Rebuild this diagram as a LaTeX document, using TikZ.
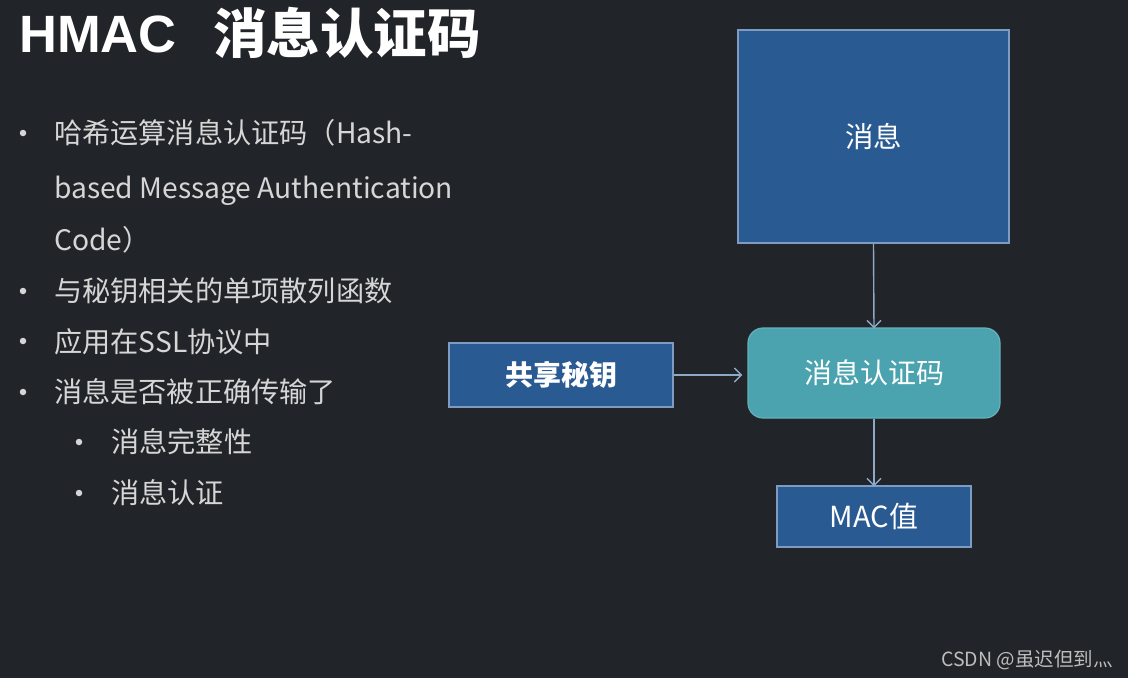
\documentclass[tikz,border=0pt]{standalone}
\usepackage{fontspec}
\setmainfont{Noto Sans CJK SC}
\newfontfamily\arialf{Liberation Sans}
\usetikzlibrary{arrows.meta}
\definecolor{bgc}{HTML}{212428}
\definecolor{txt}{HTML}{D6D6D6}
\definecolor{boxblue}{HTML}{2A5A92}
\definecolor{boxedge}{HTML}{7E9CC2}
\definecolor{teal}{HTML}{4AA3AF}
\definecolor{tealedge}{HTML}{63B2BC}
\definecolor{arrowc}{HTML}{8EA8C6}
\definecolor{wm}{HTML}{BDBDBD}
\tikzset{
  bluebox/.style={draw=boxedge, line width=1.2pt, fill=boxblue, text=white, inner sep=0pt,
    font=\fontsize{28.5}{32}\selectfont},
  tealbox/.style={draw=tealedge, line width=1.2pt, fill=teal, text=white, inner sep=0pt,
    rounded corners=15pt, font=\fontsize{28}{32}\selectfont},
  flow/.style={draw=arrowc, line width=1.4pt, -{Straight Barb[length=7pt,width=14pt,line width=1.4pt]}},
  btext/.style={anchor=base west, inner sep=0pt, text=txt, font=\fontsize{28.2}{32}\selectfont},
  bdot/.style={circle, fill=txt, inner sep=0pt, minimum size=6.5pt}
}
\begin{document}
\begin{tikzpicture}[x=1pt,y=-1pt]
\fill[bgc] (0,0) rectangle (1128,678);
\useasboundingbox (0,0) rectangle (1128,678);

% title
\node[anchor=base west, inner sep=0pt, text=white, font=\arialf\bfseries\fontsize{52.5}{56}\selectfont] (tH) at (19,52) {HMAC};
\node[anchor=base west, inner sep=0pt, text=white, font=\bfseries\fontsize{53.5}{56}\selectfont] (tC) at (213,53) {消息认证码};

% bullets
\node[bdot] (d1) at (23,133) {};
\node[btext] (l1) at (54,143) {哈希运算消息认证码（Hash-};
\node[btext] (l1b) at (54,198) {based Message Authentication};
\node[btext] (l1c) at (54,250) {Code）};
\node[bdot] (d2) at (23,291) {};
\node[btext] (l2) at (54,301) {与秘钥相关的单项散列函数};
\node[bdot] (d3) at (23,341) {};
\node[btext] (l3) at (54,352) {应用在SSL协议中};
\node[bdot] (d4) at (23,392) {};
\node[btext] (l4) at (54,402) {消息是否被正确传输了};
\node[bdot] (d5) at (79,442) {};
\node[btext] (l5) at (111,452) {消息完整性};
\node[bdot] (d6) at (79,493) {};
\node[btext] (l6) at (111,503) {消息认证};

% diagram
\node[bluebox, minimum width=271pt, minimum height=213pt] (msg) at (873.5,136.5) {消息};
\node[tealbox, minimum width=252pt, minimum height=90pt] (mac) at (874,373) {消息认证码};
\node[bluebox, minimum width=224pt, minimum height=64pt, font=\bfseries\fontsize{28}{32}\selectfont] (key) at (561,375) {共享秘钥};
\node[bluebox, minimum width=194pt, minimum height=61pt, font=\fontsize{29}{32}\selectfont] (val) at (874,516.5) {MAC值};

\draw[flow] (msg.south) -- ([yshift=-1pt]mac.north);
\draw[flow] (key.east) -- ([xshift=-5pt]mac.west |- key.east);
\draw[flow] (mac.south) -- ([yshift=-1pt]val.north);

% watermark
\node[anchor=base east, inner sep=0pt, text=wm, font=\fontsize{19.5}{22}\selectfont] (wmk) at (1113,666) {CSDN @虽迟但到灬};
\end{tikzpicture}
\end{document}
